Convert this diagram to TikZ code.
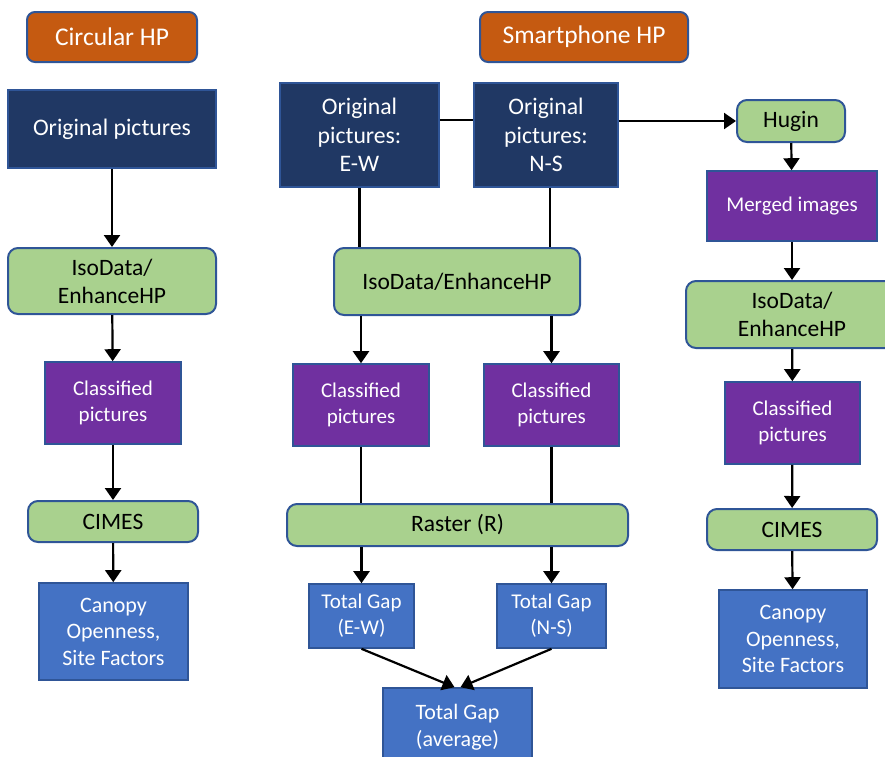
\documentclass[tikz,border=0pt]{standalone}
\usepackage{fontspec}
\setmainfont{Carlito}
\usetikzlibrary{arrows.meta}

\definecolor{edge}{HTML}{2F5597}
\definecolor{hporange}{HTML}{C55A11}
\definecolor{navy}{HTML}{203864}
\definecolor{stepgreen}{HTML}{A9D18E}
\definecolor{classpurple}{HTML}{7030A0}
\definecolor{outblue}{HTML}{4472C4}

\begin{document}
\begin{tikzpicture}[
        x=1pt, y=-1pt,
        hpbox/.style={draw=edge, line width=2pt, fill=hporange, text=white,
                      rounded corners=8pt, inner sep=0pt,
                      font=\fontsize{25.5}{30}\selectfont},
        picbox/.style={draw=edge, line width=1.6pt, fill=navy, text=white,
                       inner sep=0pt, align=center,
                       font=\fontsize{23.7}{28.5}\selectfont},
        stepbox/.style={draw=edge, line width=2pt, fill=stepgreen,
                        rounded corners=10pt, inner sep=0pt, align=center,
                        font=\fontsize{23.5}{28}\selectfont},
        classbox/.style={draw=edge, line width=1.6pt, fill=classpurple,
                         text=white, inner sep=0pt, align=center,
                         font=\fontsize{21}{26}\selectfont},
        outbox/.style={draw=edge, line width=1.6pt, fill=outblue, text=white,
                       inner sep=0pt, align=center,
                       font=\fontsize{22}{26.5}\selectfont},
        arr/.style={-{Triangle[width=16pt,length=12pt]}, line width=2.2pt},
        ln/.style={line width=2.2pt}
      ]
        \useasboundingbox (0,0) rectangle (885,756);

        % headers
        \node[hpbox, minimum width=170, minimum height=50] (circ)  at (112,37) {Circular HP};
        \node[hpbox, minimum width=208, minimum height=50] (smart) at (584,37) {Smartphone HP};

        % circular HP column
        \node[picbox, minimum width=208, minimum height=78] (orig1) at (112,129) {Original pictures};
        \node[stepbox, minimum width=208, minimum height=66] (iso1) at (112,281) {IsoData/\\EnhanceHP};
        \node[classbox, minimum width=136, minimum height=82] (cls1) at (113,403) {Classified\\pictures};
        \node[stepbox, minimum width=170, minimum height=41] (cimes1) at (113,521.5) {CIMES};
        \node[outbox, minimum width=149, minimum height=97] (canopy1) at (113.5,631.5) {Canopy\\Openness,\\Site Factors};

        \draw[arr] (orig1) -- (iso1);
        \draw[arr] (iso1) -- (cls1);
        \draw[arr] (cls1) -- (cimes1);
        \draw[arr] (cimes1) -- (canopy1);

        % smartphone HP, split pictures
        \node[picbox, minimum width=159, minimum height=104] (origew) at (359.5,135) {Original\\pictures:\\E-W};
        \node[picbox, minimum width=144, minimum height=104] (origns) at (546,135) {Original\\pictures:\\N-S};
        \node[stepbox, minimum width=246, minimum height=67] (iso2) at (457,281.5) {IsoData/EnhanceHP};
        \node[classbox, minimum width=136, minimum height=82] (clsew) at (361,405) {Classified\\pictures};
        \node[classbox, minimum width=135, minimum height=82] (clsns) at (551.5,405) {Classified\\pictures};
        \node[stepbox, minimum width=341, minimum height=42] (raster) at (457.5,525) {Raster (R)};
        \node[outbox, minimum width=105, minimum height=64,
              font=\fontsize{21}{26}\selectfont] (gapew) at (361.5,616) {Total Gap\\(E-W)};
        \node[outbox, minimum width=109, minimum height=64,
              font=\fontsize{21}{26}\selectfont] (gapns) at (551.5,616) {Total Gap\\(N-S)};
        \node[outbox, minimum width=149, minimum height=78] (gapavg) at (457.5,727) {Total Gap\\(average)};

        \draw[ln] ([yshift=15pt]origew.east) -- ([yshift=15pt]origns.west);
        \draw[ln] (origew.south) -- (origew.south |- iso2.north);
        \draw[ln] ([xshift=4pt]origns.south) -- ([xshift=4pt]origns.south |- iso2.north);
        \draw[arr] (clsew.north |- iso2.south) -- (clsew.north);
        \draw[arr] (clsns.north |- iso2.south) -- (clsns.north);
        \draw[ln] (clsew.south) -- (clsew.south |- raster.north);
        \draw[ln] (clsns.south) -- (clsns.south |- raster.north);
        \draw[arr] (gapew.north |- raster.south) -- (gapew.north);
        \draw[arr] (gapns.north |- raster.south) -- (gapns.north);
        \draw[arr] (gapew.south) -- ([xshift=-3pt]gapavg.north);
        \draw[arr] (gapns.south) -- ([xshift=3pt]gapavg.north);

        % smartphone HP, merged pictures
        \node[stepbox, minimum width=108, minimum height=42] (hugin) at (791,121) {Hugin};
        \node[classbox, minimum width=170, minimum height=70] (merged) at (792,206) {Merged images};
        \node[stepbox, minimum width=212, minimum height=67] (iso3) at (792,314.5) {IsoData/\\EnhanceHP};
        \node[classbox, minimum width=135, minimum height=82] (cls3) at (792.5,423) {Classified\\pictures};
        \node[stepbox, minimum width=170, minimum height=41] (cimes3) at (792,529.5) {CIMES};
        \node[outbox, minimum width=148, minimum height=98] (canopy3) at (793,639) {Canopy\\Openness,\\Site Factors};

        \draw[arr] (origns.east |- hugin.west) -- (hugin.west);
        \draw[arr] (hugin) -- (merged);
        \draw[arr] (merged) -- (iso3);
        \draw[arr] (iso3) -- (cls3);
        \draw[arr] (cls3) -- (cimes3);
        \draw[arr] (cimes3) -- (canopy3);
      \end{tikzpicture}
\end{document}
